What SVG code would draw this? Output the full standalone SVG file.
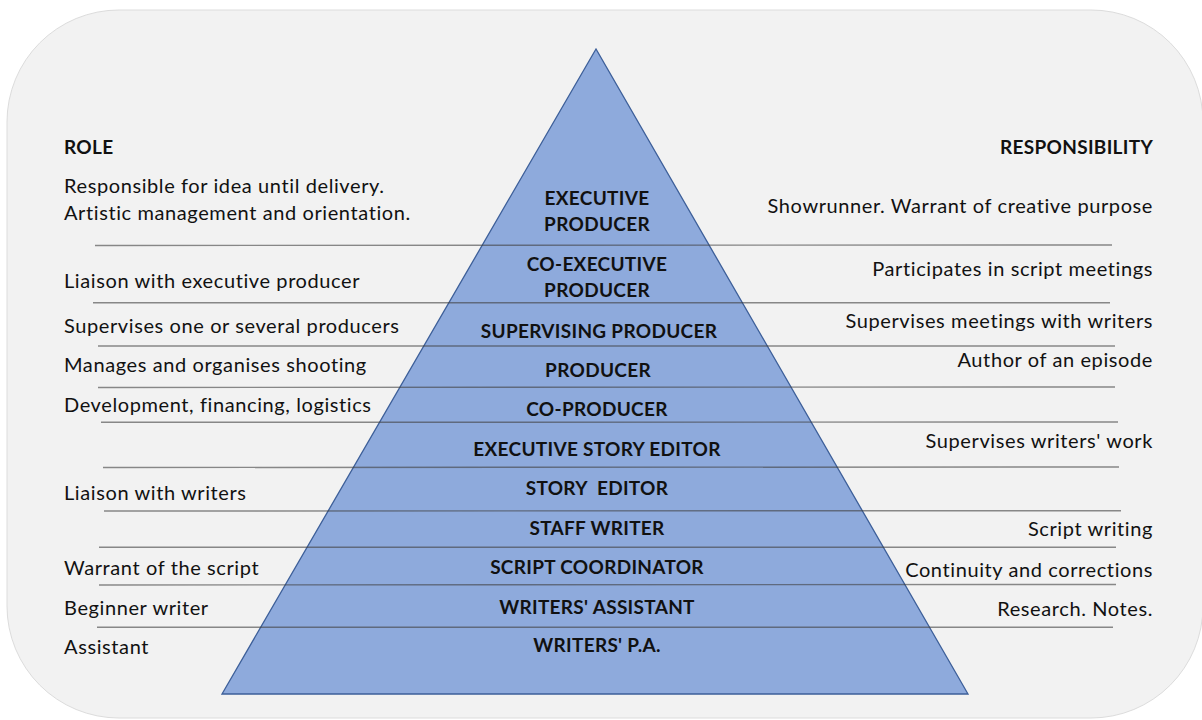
<svg xmlns="http://www.w3.org/2000/svg" width="1202" height="720" viewBox="0 0 1202 720">
<style>
.bg{fill:#f2f2f2;stroke:#dcdcdc;stroke-width:1}
.tri{fill:#8eaadc;stroke:#3d5f99;stroke-width:1.3}
.sep{stroke:#404040;stroke-opacity:0.6;stroke-width:1.4;fill:none}
.t{font-family:Lato,"Open Sans",sans-serif;font-size:20px;letter-spacing:0.6px;fill:#111}
.h{font-family:Lato,"Open Sans",sans-serif;font-size:19px;letter-spacing:0.3px;font-weight:bold;fill:#111}
.c{font-family:Lato,"Open Sans",sans-serif;font-size:19px;letter-spacing:0.3px;font-weight:bold;fill:#111;text-anchor:middle;white-space:pre}
.r{text-anchor:end}
</style>
<rect class="bg" x="7" y="10" width="1196" height="708" rx="112" ry="112"/>
<g id="pyramid">
<polygon class="tri" points="596,49 222,694 968,694"/>
</g>
<g id="connectors">
<line class="sep" x1="95" y1="245.5" x2="1112" y2="245"/>
<line class="sep" x1="93" y1="302.7" x2="1110" y2="302.7"/>
<line class="sep" x1="98" y1="346" x2="1115" y2="346"/>
<line class="sep" x1="98" y1="387.5" x2="1115" y2="387"/>
<line class="sep" x1="101" y1="422.3" x2="1118" y2="422"/>
<line class="sep" x1="103" y1="467.5" x2="1119" y2="467"/>
<line class="sep" x1="104" y1="511" x2="1121" y2="510.7"/>
<line class="sep" x1="99" y1="547.3" x2="1116" y2="547.3"/>
<line class="sep" x1="99" y1="585" x2="1116" y2="584.5"/>
<line class="sep" x1="97" y1="627.3" x2="1113" y2="627.3"/>
</g>
<g id="headers">
<text class="h" x="64" y="154">ROLE</text>
<text class="h r" x="1153" y="154">RESPONSIBILITY</text>
</g>
<g id="roles">
<text class="t" x="64" y="193">Responsible for idea until delivery.</text>
<text class="t" x="64" y="220">Artistic management and orientation.</text>
<text class="t" x="64" y="288">Liaison with executive producer</text>
<text class="t" x="64" y="332.5">Supervises one or several producers</text>
<text class="t" x="64" y="371.5">Manages and organises shooting</text>
<text class="t" x="64" y="411.5">Development, financing, logistics</text>
<text class="t" x="64" y="500">Liaison with writers</text>
<text class="t" x="64" y="575">Warrant of the script</text>
<text class="t" x="64" y="615">Beginner writer</text>
<text class="t" x="64" y="654">Assistant</text>
</g>
<g id="responsibilities">
<text class="t r" x="1153" y="213">Showrunner. Warrant of creative purpose</text>
<text class="t r" x="1153" y="275.5">Participates in script meetings</text>
<text class="t r" x="1153" y="328">Supervises meetings with writers</text>
<text class="t r" x="1153" y="366.5">Author of an episode</text>
<text class="t r" x="1153" y="448">Supervises writers' work</text>
<text class="t r" x="1153" y="536">Script writing</text>
<text class="t r" x="1153" y="576.5">Continuity and corrections</text>
<text class="t r" x="1153" y="616">Research. Notes.</text>
</g>
<g id="level-executive-producer"><text class="c" x="597" y="205">EXECUTIVE</text><text class="c" x="597" y="231">PRODUCER</text></g>
<g id="level-co-executive-producer"><text class="c" x="597" y="271">CO-EXECUTIVE</text><text class="c" x="597" y="297">PRODUCER</text></g>
<g id="level-supervising-producer"><text class="c" x="599" y="337.5">SUPERVISING PRODUCER</text></g>
<g id="level-producer"><text class="c" x="598" y="377">PRODUCER</text></g>
<g id="level-co-producer"><text class="c" x="597" y="416">CO-PRODUCER</text></g>
<g id="level-executive-story-editor"><text class="c" x="597" y="456">EXECUTIVE STORY EDITOR</text></g>
<g id="level-story-editor"><text class="c" x="597" y="495" xml:space="preserve">STORY  EDITOR</text></g>
<g id="level-staff-writer"><text class="c" x="597" y="534.5">STAFF WRITER</text></g>
<g id="level-script-coordinator"><text class="c" x="597" y="574">SCRIPT COORDINATOR</text></g>
<g id="level-writers-assistant"><text class="c" x="597" y="613.5">WRITERS' ASSISTANT</text></g>
<g id="level-writers-pa"><text class="c" x="597" y="652">WRITERS' P.A.</text></g>
</svg>
